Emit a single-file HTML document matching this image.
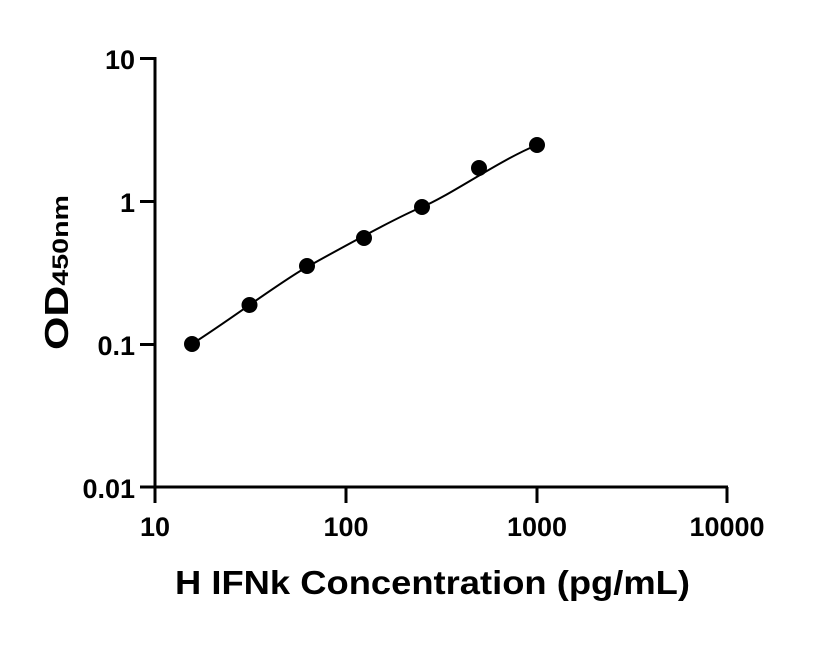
<!DOCTYPE html>
<html><head><style>body{margin:0;background:#fff}svg text{font-family:"Liberation Sans",Arial,sans-serif;font-weight:bold;fill:#000}</style></head>
<body>
<svg width="816" height="640" viewBox="0 0 816 640">
<g stroke="#000" stroke-width="3" fill="none">
<line x1="155" y1="57" x2="155" y2="503"/>
<line x1="140" y1="487" x2="728" y2="487"/>
<line x1="140" y1="58.5" x2="155" y2="58.5"/>
<line x1="140" y1="201.5" x2="155" y2="201.5"/>
<line x1="140" y1="344.5" x2="155" y2="344.5"/>
<line x1="346" y1="487" x2="346" y2="503"/>
<line x1="537" y1="487" x2="537" y2="503"/>
<line x1="727" y1="487" x2="727" y2="503"/>
</g>
<path d="M192,344 C230,320 280,282 307,267 S395,218 422,207 S500,160 537,145" stroke="#000" stroke-width="2" fill="none"/>
<g fill="#000">
<circle cx="192" cy="344" r="8"/><circle cx="249.5" cy="305" r="8"/><circle cx="307" cy="266" r="8"/>
<circle cx="364" cy="238" r="8"/><circle cx="422" cy="207" r="8"/><circle cx="479" cy="168" r="8"/><circle cx="537" cy="145" r="8"/>
</g>
<g font-size="27" text-anchor="end">
<text x="135" y="69">10</text><text x="135" y="212">1</text><text x="135" y="355">0.1</text><text x="135" y="498">0.01</text>
</g>
<g font-size="27" text-anchor="middle">
<text x="155" y="536">10</text><text x="346" y="536">100</text><text x="537" y="536">1000</text><text x="727" y="536">10000</text>
</g>
<text x="175" y="594" font-size="33" textLength="515" lengthAdjust="spacingAndGlyphs">H IFNk Concentration (pg/mL)</text>
<text transform="translate(68,350) rotate(-90)" font-size="33" textLength="155" lengthAdjust="spacingAndGlyphs">OD<tspan font-size="22">450nm</tspan></text>
</svg>
</body></html>
